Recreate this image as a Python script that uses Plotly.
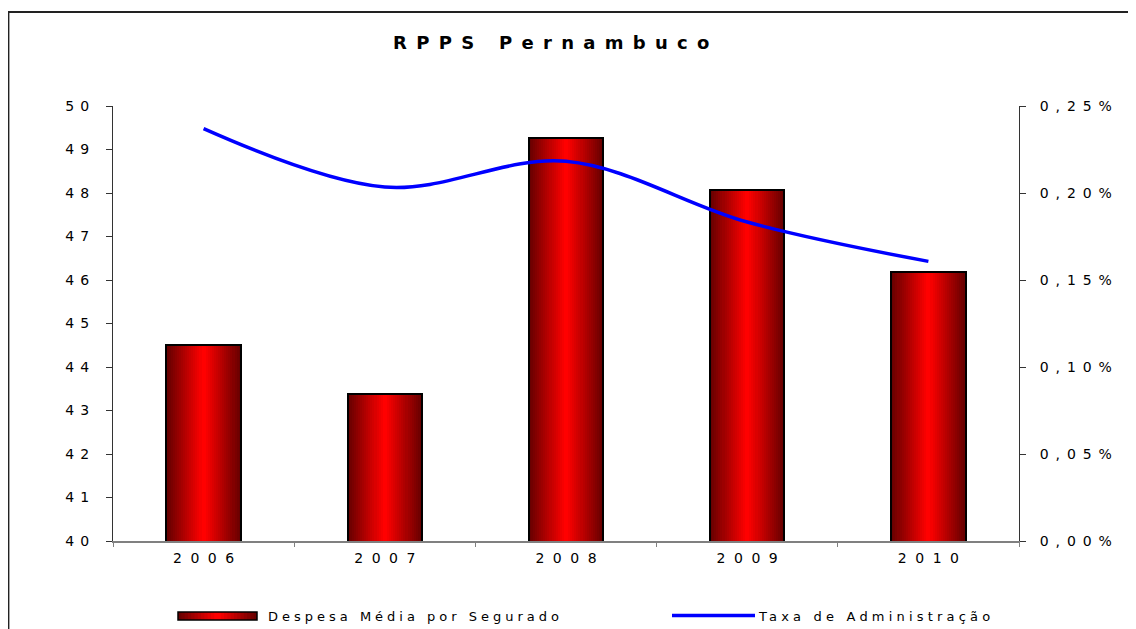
import plotly.graph_objects as go

# ---- data ----
years = ["2006", "2007", "2008", "2009", "2010"]
despesa = [44.50, 43.37, 49.27, 48.06, 46.18]          # Despesa Média por Segurado
taxa = [0.2370, 0.2034, 0.2182, 0.1833, 0.1607]        # Taxa de Administração (%)
left_ticks = [40, 41, 42, 43, 44, 45, 46, 47, 48, 49, 50]
right_ticks = [0.00, 0.05, 0.10, 0.15, 0.20, 0.25]
right_labels = ["0,00%", "0,05%", "0,10%", "0,15%", "0,20%", "0,25%"]
title_text = "RPPS Pernambuco"
legend_names = ["Despesa Média por Segurado", "Taxa de Administração"]

FONT = "DejaVu Sans"

# page geometry (the page body has an 8px margin)
OFF = 8
PAGE_W, PAGE_H = 1136, 629
W_PX, H_PX = PAGE_W - OFF, PAGE_H - OFF
# plot area in page pixels
L, R, T, B = 113, 1019, 106, 541


def px_x(p):
    return (p - L) / (R - L)


def px_y(p):
    return (B - p) / (B - T)


def spaced(s, px):
    # letter spacing without trailing space on the last glyph
    return f'<span style="letter-spacing:{px}px">{s[:-1]}</span>{s[-1]}'


fig = go.Figure()

# bars with a horizontal dark-red -> red -> dark-red gradient (stacked overlays)
N = 18
BW = 0.41
for k in range(N):
    t = k / (N - 1)
    r = int(105 + (255 - 105) * t)
    fig.add_trace(go.Bar(
        x=years, y=despesa, width=BW * (N - k) / N,
        marker=dict(color=f"rgb({r},0,0)", line=dict(width=0)),
        showlegend=False, hoverinfo="skip"))
fig.add_trace(go.Bar(
    x=years, y=despesa, width=BW,
    marker=dict(color="rgba(0,0,0,0)", line=dict(color="black", width=2)),
    name=legend_names[0], showlegend=False))

fig.add_trace(go.Scatter(
    x=years, y=taxa, yaxis="y2", mode="lines",
    line=dict(color="#0000ff", width=3.5, shape="spline", smoothing=1),
    name=legend_names[1], showlegend=False))

tickfont = dict(family=FONT, size=14, color="black")

fig.update_layout(
    width=W_PX, height=H_PX,
    margin=dict(l=L - OFF, r=W_PX - (R - OFF), t=T - OFF, b=H_PX - (B - OFF), autoexpand=False),
    paper_bgcolor="white", plot_bgcolor="white",
    barmode="overlay", bargap=0,
    showlegend=False,
    xaxis=dict(
        type="category", range=[-0.5, 4.5],
        tickmode="array", tickvals=years, ticktext=[spaced(y, 8.5) for y in years],
        tickson="boundaries", ticks="outside", ticklen=4, tickcolor="#808080",
        showline=True, linecolor="#808080", linewidth=1.5,
        showgrid=False, zeroline=False, tickfont=tickfont, ticklabelstandoff=3),
    yaxis=dict(
        range=[40, 50], tickmode="array", tickvals=left_ticks,
        ticktext=[spaced(str(v), 6.2) for v in left_ticks],
        ticks="outside", ticklen=6, tickcolor="#333333", tickwidth=1,
        showline=True, linecolor="#333333", linewidth=1,
        showgrid=False, zeroline=False, tickfont=tickfont, ticklabelstandoff=14),
    yaxis3=dict(
        overlaying="y", side="left", range=[40, 50], tickmode="array",
        tickvals=left_ticks, ticks="inside", ticklen=6, tickcolor="#333333",
        showticklabels=False, showline=False, showgrid=False, zeroline=False),
    yaxis2=dict(
        overlaying="y", side="right", range=[0, 0.25], tickmode="array",
        tickvals=right_ticks, ticktext=[spaced(s, 6.9) for s in right_labels],
        ticks="outside", ticklen=6, tickcolor="#333333",
        showline=True, linecolor="#333333", linewidth=1,
        showgrid=False, zeroline=False, tickfont=tickfont, ticklabelstandoff=11),
    yaxis4=dict(
        overlaying="y", side="right", anchor="x", range=[0, 0.25], tickmode="array",
        tickvals=right_ticks, ticks="inside", ticklen=6, tickcolor="#333333",
        showticklabels=False, showline=False, showgrid=False, zeroline=False),
)

shapes = []
# outer chart frame
shapes.append(dict(type="rect", xref="paper", yref="paper",
                   x0=px_x(8.5), x1=px_x(1145), y0=px_y(645), y1=px_y(12),
                   line=dict(color="#222222", width=1.8), fillcolor="rgba(0,0,0,0)", layer="below"))

# legend swatch for bars (gradient)
sx0, sx1, sy0, sy1 = 178, 257, 612, 620
M = 12
for k in range(M):
    t = k / (M - 1)
    r = int(105 + (255 - 105) * t)
    half = (sx1 - sx0) / 2 * (M - k) / M
    cx = (sx0 + sx1) / 2
    shapes.append(dict(type="rect", xref="paper", yref="paper",
                       x0=px_x(cx - half), x1=px_x(cx + half), y0=px_y(sy1), y1=px_y(sy0),
                       line=dict(width=0), fillcolor=f"rgb({r},0,0)"))
shapes.append(dict(type="rect", xref="paper", yref="paper",
                   x0=px_x(sx0), x1=px_x(sx1), y0=px_y(sy1), y1=px_y(sy0),
                   line=dict(color="black", width=1.5), fillcolor="rgba(0,0,0,0)"))
# legend swatch for line
shapes.append(dict(type="line", xref="paper", yref="paper",
                   x0=px_x(672), x1=px_x(755), y0=px_y(615.5), y1=px_y(615.5),
                   line=dict(color="#0000ff", width=3.5)))
fig.update_layout(shapes=shapes)

annotations = [
    dict(text=f'<b>{spaced(title_text, 9.3)}</b>', xref="paper", yref="paper",
         x=px_x(551), y=px_y(42), xanchor="center", yanchor="middle", showarrow=False,
         font=dict(family=FONT, size=18, color="black")),
    dict(text=spaced(legend_names[0], 4), xref="paper", yref="paper",
         x=px_x(266), y=px_y(616), xanchor="left", yanchor="middle", showarrow=False,
         font=dict(family=FONT, size=13, color="black")),
    dict(text=spaced(legend_names[1], 4.2), xref="paper", yref="paper",
         x=px_x(756), y=px_y(616), xanchor="left", yanchor="middle", showarrow=False,
         font=dict(family=FONT, size=13, color="black")),
]
fig.update_layout(annotations=annotations)

fig.write_html("out.html")
